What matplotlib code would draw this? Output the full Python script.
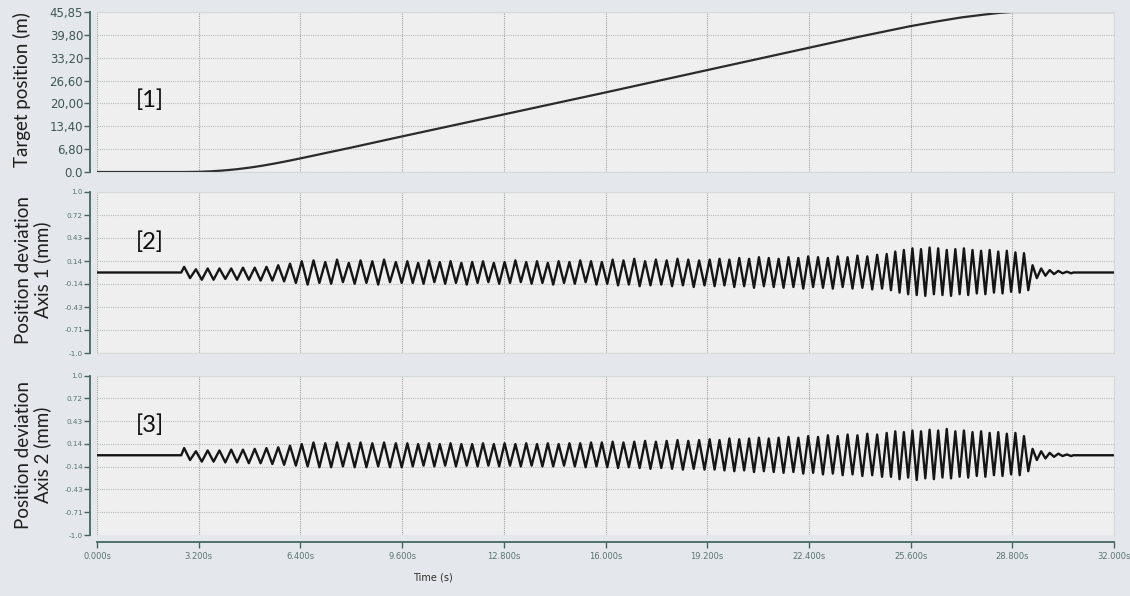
import matplotlib
matplotlib.use("Agg")
import matplotlib.pyplot as plt
import numpy as np

# target position [1]
pos_t = [0.0, 2.8, 3.2, 3.6, 4.0, 4.4, 4.8, 5.2, 5.6, 6.0, 6.4, 7.2, 8.0, 9.6, 12.8,
         16.0, 19.2, 22.4, 23.2, 24.0, 24.8, 25.6, 26.4, 27.2, 28.0, 28.4, 28.8, 32.0]
pos_m = [0.0, 0.0, 0.05, 0.2, 0.45, 0.8, 1.25, 1.8, 2.45, 3.15, 3.9, 5.45, 7.0, 10.2, 16.5,
         22.8, 29.2, 35.6, 37.2, 38.8, 40.3, 41.8, 43.1, 44.3, 45.2, 45.6, 45.85, 45.85]

# start time of each oscillation cycle (s), last value = end of oscillation
cycle_t = [2.65, 3.02, 3.39, 3.76, 4.13, 4.50, 4.87, 5.24, 5.61, 5.98, 6.35, 6.72, 7.09, 7.46,
           7.83, 8.20, 8.57, 8.94, 9.31,
           9.68, 10.02, 10.36, 10.70, 11.04, 11.38, 11.72, 12.06, 12.40, 12.74, 13.08, 13.42,
           13.76, 14.10, 14.44, 14.78, 15.12, 15.46, 15.80, 16.14, 16.48, 16.82, 17.16, 17.50,
           17.84, 18.18, 18.52, 18.86,
           19.20, 19.51, 19.82, 20.13, 20.44, 20.75, 21.06, 21.37, 21.68, 21.99, 22.30, 22.61,
           22.92, 23.23, 23.54, 23.85, 24.16, 24.47,
           24.78, 25.05, 25.32, 25.59, 25.86, 26.13, 26.40, 26.67, 26.94, 27.21, 27.48, 27.75,
           28.02, 28.29, 28.56, 28.83, 29.10,
           29.37, 29.64, 29.91, 30.18, 30.45, 30.72]

# axis 1 deviation: max / min of every cycle (mm)
ax1_hi = [0.07, 0.04, 0.05, 0.05, 0.05, 0.06, 0.06, 0.07, 0.09, 0.11, 0.14, 0.15, 0.13, 0.16,
          0.12, 0.15, 0.14, 0.16, 0.13,
          0.14, 0.12, 0.15, 0.13, 0.14, 0.12, 0.13, 0.14, 0.12, 0.13, 0.15, 0.13, 0.14, 0.12,
          0.14, 0.13, 0.15, 0.14, 0.13, 0.16, 0.15, 0.17, 0.14, 0.16, 0.15, 0.17, 0.16, 0.15,
          0.16, 0.17, 0.16, 0.18, 0.17, 0.19, 0.18, 0.17, 0.19, 0.18, 0.20, 0.19, 0.18, 0.20,
          0.19, 0.21, 0.20, 0.22,
          0.23, 0.26, 0.28, 0.30, 0.29, 0.31, 0.30, 0.28, 0.29, 0.30, 0.28, 0.27, 0.28, 0.26,
          0.27, 0.25, 0.24,
          0.09, 0.05, 0.03, 0.02, 0.01]
ax1_lo = [-0.07, -0.09, -0.09, -0.08, -0.09, -0.09, -0.10, -0.10, -0.11, -0.13, -0.15, -0.13,
          -0.14, -0.12, -0.14, -0.13, -0.15, -0.12, -0.13,
          -0.13, -0.14, -0.12, -0.14, -0.13, -0.15, -0.13, -0.12, -0.14, -0.13, -0.12, -0.14,
          -0.13, -0.15, -0.13, -0.14, -0.12, -0.15, -0.14, -0.16, -0.15, -0.17, -0.16, -0.15,
          -0.17, -0.16, -0.18, -0.16,
          -0.17, -0.16, -0.18, -0.17, -0.19, -0.17, -0.18, -0.19, -0.18, -0.20, -0.18, -0.19,
          -0.20, -0.18, -0.20, -0.19, -0.21, -0.20,
          -0.22, -0.25, -0.27, -0.28, -0.29, -0.27, -0.28, -0.29, -0.27, -0.28, -0.26, -0.27,
          -0.25, -0.26, -0.24, -0.25, -0.22,
          -0.07, -0.04, -0.02, -0.01, -0.01]

# axis 2 deviation
ax2_hi = [0.09, 0.05, 0.06, 0.06, 0.07, 0.07, 0.08, 0.09, 0.10, 0.12, 0.14, 0.16, 0.15, 0.16,
          0.15, 0.16, 0.15, 0.16, 0.15,
          0.15, 0.14, 0.15, 0.14, 0.15, 0.14, 0.14, 0.15, 0.14, 0.15, 0.14, 0.15, 0.14, 0.15,
          0.14, 0.15, 0.15, 0.16, 0.16, 0.17, 0.16, 0.17, 0.18, 0.17, 0.18, 0.19, 0.18, 0.19,
          0.20, 0.19, 0.21, 0.20, 0.21, 0.22, 0.21, 0.22, 0.23, 0.22, 0.24, 0.23, 0.25, 0.24,
          0.26, 0.25, 0.27, 0.26,
          0.28, 0.30, 0.29, 0.31, 0.30, 0.32, 0.31, 0.33, 0.30, 0.31, 0.29, 0.30, 0.28, 0.29,
          0.27, 0.28, 0.24,
          0.08, 0.05, 0.03, 0.02, 0.01]
ax2_lo = [-0.06, -0.08, -0.08, -0.09, -0.09, -0.10, -0.10, -0.11, -0.12, -0.13, -0.14, -0.15,
          -0.15, -0.14, -0.15, -0.15, -0.14, -0.15, -0.15,
          -0.14, -0.13, -0.14, -0.13, -0.14, -0.13, -0.14, -0.13, -0.14, -0.13, -0.14, -0.13,
          -0.14, -0.14, -0.13, -0.14, -0.15, -0.14, -0.15, -0.16, -0.15, -0.16, -0.17, -0.16,
          -0.17, -0.18, -0.17, -0.18,
          -0.18, -0.19, -0.20, -0.19, -0.21, -0.20, -0.21, -0.22, -0.21, -0.23, -0.22, -0.24,
          -0.23, -0.25, -0.24, -0.26, -0.25, -0.27,
          -0.27, -0.30, -0.28, -0.31, -0.29, -0.30, -0.28, -0.29, -0.27, -0.28, -0.26, -0.27,
          -0.25, -0.26, -0.24, -0.25, -0.20,
          -0.06, -0.04, -0.02, -0.01, -0.01]

t_end = 32.0
pos_ticks = ["0.0", "6,80", "13,40", "20,00", "26,60", "33,20", "39,80", "45,85"]
dev_ticks = ["-1.0", "-0.71", "-0.43", "-0.14", "0.14", "0.43", "0.72", "1.0"]
time_ticks = ["0.000s", "3.200s", "6.400s", "9.600s", "12.800s", "16.000s", "19.200s",
              "22.400s", "25.600s", "28.800s", "32.000s"]

FIG_BG = "#e4e7eb"
AX_BG = "#efefef"
SPINE = "#47655f"
TICK_TXT = "#5b7474"
GRID_V = "#9ea6a3"
GRID_H = "#b9bebc"


def zigzag(hi, lo):
    # join the max/min of each cycle into one trace
    t = [0.0, cycle_t[0]]
    y = [0.0, 0.0]
    for k in range(len(hi)):
        s, e = cycle_t[k], cycle_t[k + 1]
        t += [s + (e - s) * 0.25, s + (e - s) * 0.75]
        y += [hi[k], lo[k]]
    t += [cycle_t[-1], t_end]
    y += [0.0, 0.0]
    return t, y


def style_axis(ax, lo, hi, labels, label_size, label_color):
    ax.set_facecolor(AX_BG)
    ax.set_xlim(0, t_end)
    ax.set_ylim(lo, hi)
    ax.set_xticks(np.linspace(0, t_end, len(time_ticks)))
    ax.set_yticks(np.linspace(lo, hi, len(labels)))
    ax.set_yticklabels(labels)
    ax.xaxis.grid(True, color=GRID_V, linestyle=(0, (1, 1)), linewidth=0.8)
    ax.yaxis.grid(True, color=GRID_H, linestyle=(0, (1, 1)), linewidth=0.8)
    for side in ["top", "right", "bottom"]:
        ax.spines[side].set_color("#d6d9d9")
        ax.spines[side].set_linewidth(0.8)
    ax.spines["left"].set_position(("outward", 5))
    ax.spines["left"].set_color(SPINE)
    ax.spines["left"].set_linewidth(1.3)
    ax.tick_params(axis="y", length=4, width=1.0, color=SPINE, pad=1,
                   labelsize=label_size, labelcolor=label_color)
    ax.tick_params(axis="x", length=0, labelbottom=False)


fig = plt.figure(figsize=(11.3, 5.96), dpi=100)
fig.patch.set_facecolor(FIG_BG)
W, H = 1130.0, 596.0

ax_a = fig.add_axes([97 / W, 1 - 172 / H, 1017 / W, 160 / H])
ax_b = fig.add_axes([97 / W, 1 - 353 / H, 1017 / W, 161 / H])
ax_c = fig.add_axes([97 / W, 1 - 535 / H, 1017 / W, 159.5 / H])

ax_a.plot(pos_t, pos_m, color="#2b2b2b", linewidth=1.6)
style_axis(ax_a, 0, 45.85, pos_ticks, 8.5, "#3f5656")

t1, y1 = zigzag(ax1_hi, ax1_lo)
ax_b.plot(t1, y1, color="#151515", linewidth=1.7, solid_joinstyle="round")
style_axis(ax_b, -1, 1, dev_ticks, 5.2, TICK_TXT)

t2, y2 = zigzag(ax2_hi, ax2_lo)
ax_c.plot(t2, y2, color="#151515", linewidth=1.7, solid_joinstyle="round")
style_axis(ax_c, -1, 1, dev_ticks, 5.2, TICK_TXT)
ax_c.spines["bottom"].set_position(("outward", 5))
ax_c.spines["bottom"].set_color(SPINE)
ax_c.spines["bottom"].set_linewidth(1.3)
ax_c.tick_params(axis="x", length=4, width=1.0, color=SPINE, labelbottom=True, pad=3,
                 labelsize=6, labelcolor=TICK_TXT)
ax_c.set_xticklabels(time_ticks)

lab = dict(family="Lato", fontsize=13.5, color="#1e1e1e", rotation=90,
           ha="center", va="center")
fig.text(22 / W, 1 - 90 / H, "Target position (m)", **lab)
fig.text(33 / W, 1 - 270 / H, "Position deviation\nAxis 1 (mm)", linespacing=1.05, **lab)
fig.text(33 / W, 1 - 455 / H, "Position deviation\nAxis 2 (mm)", linespacing=1.05, **lab)

fig.text(433 / W, 1 - 578 / H, "Time (s)", fontsize=7, color="#2e2e2e", ha="center", va="center")

for tag, ty in [("[1]", 100), ("[2]", 242), ("[3]", 425)]:
    fig.text(150 / W, 1 - ty / H, tag, family="Lato", fontsize=17, color="#111111",
             ha="center", va="center")

fig.savefig("out.png", dpi=100, facecolor=FIG_BG)
